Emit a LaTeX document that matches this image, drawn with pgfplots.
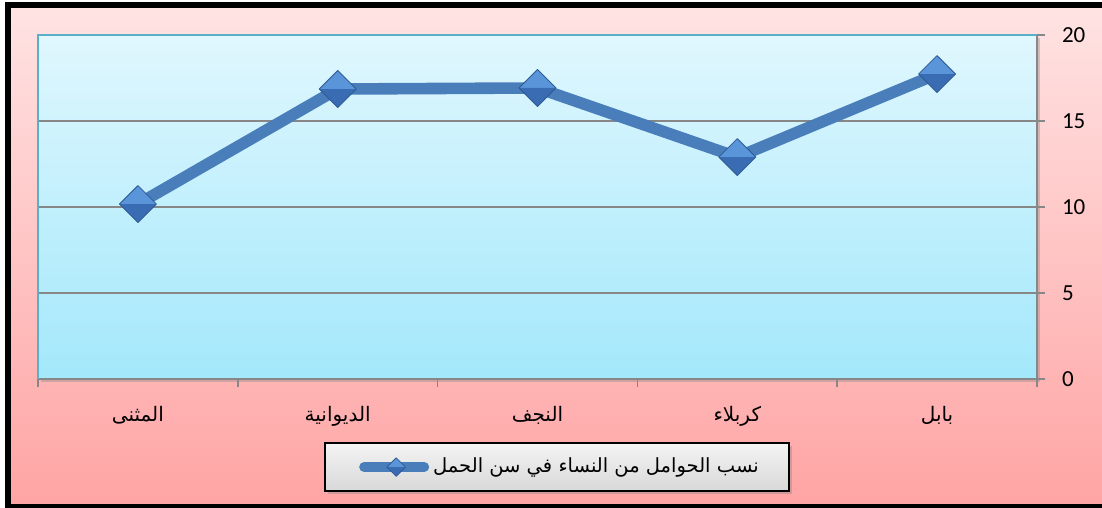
\documentclass[border=0pt]{standalone}
\usepackage{pgfplots}
\pgfplotsset{compat=1.18}
\usepackage{fontspec}
\setmainfont{Carlito}
\newfontfamily\arabicfont[Script=Arabic]{DejaVu Sans}
\TeXXeTstate=1
\usetikzlibrary{shadows}
\definecolor{pinkTop}{HTML}{FFE3E3}
\definecolor{pinkBot}{HTML}{FFA4A4}
\definecolor{skyTop}{HTML}{E0F7FE}
\definecolor{skyBot}{HTML}{A3E8FB}
\definecolor{lineblue}{HTML}{4A7EBB}
\definecolor{mklight}{HTML}{5A95DA}
\definecolor{mkdark}{HTML}{3A6CB3}
\definecolor{mkedge}{HTML}{2E5A93}
\definecolor{gridgray}{HTML}{878787}
\definecolor{tealborder}{HTML}{5BB0C8}
\definecolor{legTop}{HTML}{F4F4F4}
\definecolor{legBot}{HTML}{D8D8D8}

\makeatletter
\tikzset{noshadow/.code={\let\tikz@preactions\pgfutil@empty}}
\makeatother

\pgfdeclareplotmark{pyr}{%
  \pgfsetfillcolor{mklight}%
  \pgfpathmoveto{\pgfqpoint{-\pgfplotmarksize}{0pt}}%
  \pgfpathlineto{\pgfqpoint{0pt}{\pgfplotmarksize}}%
  \pgfpathlineto{\pgfqpoint{\pgfplotmarksize}{0pt}}%
  \pgfpathclose
  \pgfusepath{fill}%
  \pgfsetfillcolor{mkdark}%
  \pgfpathmoveto{\pgfqpoint{-\pgfplotmarksize}{0pt}}%
  \pgfpathlineto{\pgfqpoint{0pt}{-\pgfplotmarksize}}%
  \pgfpathlineto{\pgfqpoint{\pgfplotmarksize}{0pt}}%
  \pgfpathclose
  \pgfusepath{fill}%
  \pgfsetstrokecolor{mkedge}%
  \pgfsetlinewidth{0.4pt}%
  \pgfpathmoveto{\pgfqpoint{-\pgfplotmarksize}{0pt}}%
  \pgfpathlineto{\pgfqpoint{0pt}{\pgfplotmarksize}}%
  \pgfpathlineto{\pgfqpoint{\pgfplotmarksize}{0pt}}%
  \pgfpathlineto{\pgfqpoint{0pt}{-\pgfplotmarksize}}%
  \pgfpathclose
  \pgfusepath{stroke}%
}

\begin{document}
\begin{tikzpicture}
\useasboundingbox (-19pt,-64.5pt) rectangle (532pt,189.5pt);
\shade[top color=pinkTop, bottom color=pinkBot] (-15pt,-64pt) rectangle (533.5pt,186.75pt);
\draw[line width=3pt] (-15pt,-64pt) rectangle (533.5pt,186.75pt);
\begin{axis}[
  at={(0pt,0pt)}, anchor=south west,
  scale only axis, width=499.5pt, height=172pt,
  xmin=-0.5, xmax=4.5, ymin=0, ymax=20,
  axis x line*=bottom, axis y line*=right,
  axis line style={gridgray, line width=0.8pt},
  xtick={0,1,2,3,4},
  xticklabels={{\beginR المثنى\endR},{\beginR الديوانية\endR},{\beginR النجف\endR},{\beginR كربلاء\endR},{\beginR بابل\endR}},
  major x tick style={draw=none},
  minor xtick={-0.5,0.5,1.5,2.5,3.5,4.5},
  minor x tick style={gridgray, line width=0.8pt},
  minor tick length=4pt,
  ytick={0,5,10,15,20},
  y tick style={gridgray, line width=0.8pt},
  major tick length=4pt,
  tick align=outside,
  /pgf/number format/assume math mode=true,
  ymajorgrids, grid style={gridgray, line width=0.8pt},
  axis background/.style={top color=skyTop, bottom color=skyBot,
     drop shadow={shadow xshift=1.5pt, shadow yshift=-1.5pt, opacity=0.35}},
  x tick label style={font=\arabicfont\fontsize{10}{11}\selectfont, yshift=-6pt},
  y tick label style={font=\fontsize{11.5}{12}\selectfont, xshift=5pt},
  after end axis/.code={\draw[tealborder, line width=1pt] (rel axis cs:0,0) -- (rel axis cs:0,1) -- (rel axis cs:1,1);},
  legend style={at={(0.5195,-0.256)}, anchor=center, draw=black, line width=0.8pt,
     top color=legTop, bottom color=legBot,
     drop shadow={shadow xshift=1.5pt, shadow yshift=-1.5pt, opacity=0.35},
     font=\arabicfont\fontsize{9.75}{11}\selectfont, inner xsep=13pt, inner ysep=5.5pt},
  legend image code/.code={%
    \path[noshadow, draw=none, fill=none] (-6.5pt,0pt) -- (-6pt,0pt);
    \draw[noshadow, lineblue, line width=5pt, line cap=round] (0pt,0pt) -- (30pt,0pt);
    \draw[noshadow, mark=pyr, mark size=4.6pt] plot coordinates {(16pt,0pt)};
  },
]
\addplot[color=lineblue, line width=5.8pt, line join=round, mark=pyr, mark size=9.25pt]
  coordinates {(0,10.17) (1,16.86) (2,16.92) (3,12.9) (4,17.73)};
\addlegendentry{\beginR نسب الحوامل من النساء في سن الحمل\endR}
\end{axis}
\end{tikzpicture}
\end{document}
